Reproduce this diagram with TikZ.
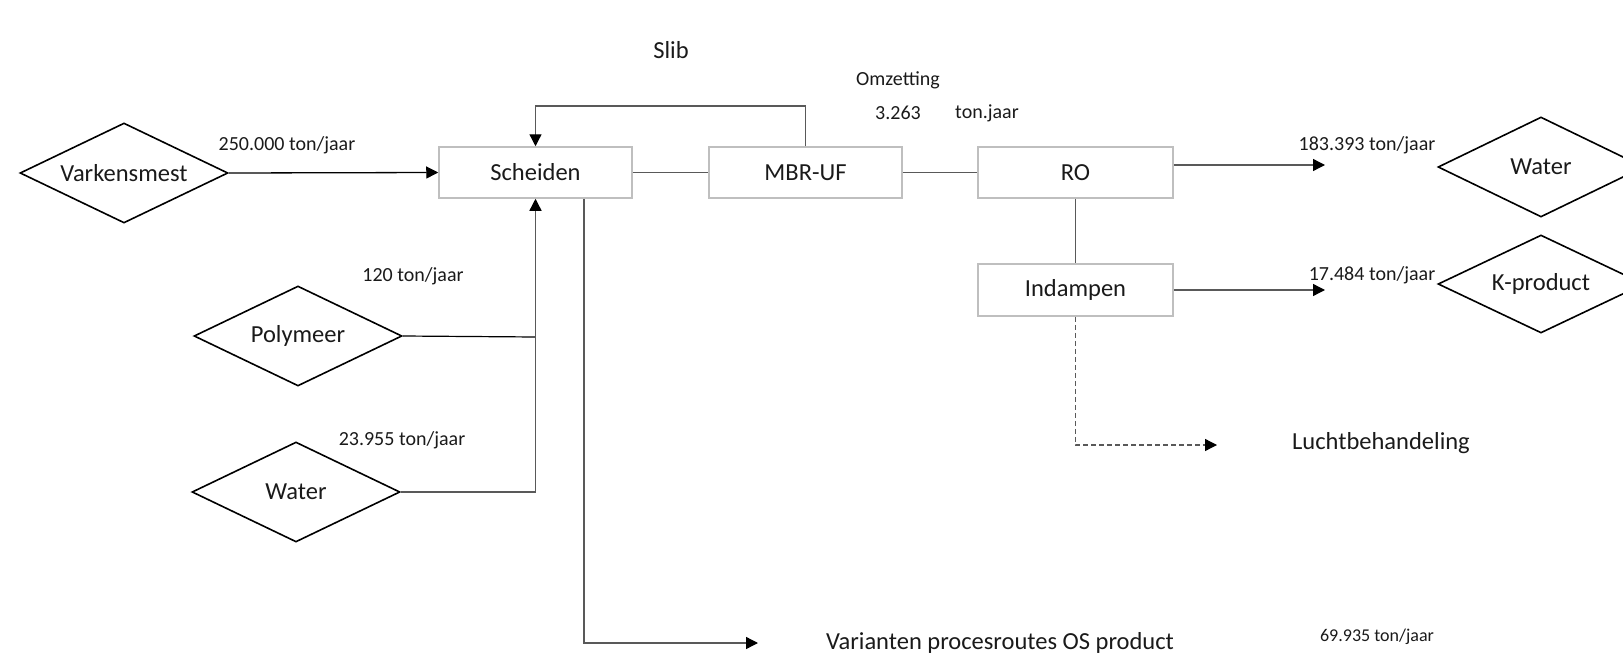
\documentclass[tikz,border=0pt]{standalone}
\usepackage{fontspec}
\setmainfont{Carlito}
\usetikzlibrary{shapes.geometric,arrows.meta}
\definecolor{boxgray}{HTML}{BFBFBF}
\definecolor{linegray}{HTML}{595959}
\definecolor{txt}{HTML}{1A1A1A}
\begin{document}
\begin{tikzpicture}[x=1pt,y=-1pt,
  big/.style={font=\fontsize{24.5}{29}\selectfont,text=txt},
  small/.style={font=\fontsize{20}{24}\selectfont,text=txt},
  tiny/.style={font=\fontsize{18}{22}\selectfont,text=txt},
  procbox/.style={draw=boxgray,line width=1.5pt,minimum width=193pt,minimum height=51pt,inner sep=0pt,big},
  src/.style={draw=black,line width=1.6pt,shape=diamond,aspect=2.1,inner sep=0pt,minimum width=208pt,minimum height=100pt,big},
  tip/.style={-{Triangle[length=12pt,width=12pt,color=black,fill=black]}},
  flow/.style={draw=linegray,line width=1.3pt,tip},
  link/.style={draw=linegray,line width=1.3pt}]
\useasboundingbox (0,0) rectangle (1623,661);
\clip (0,0) rectangle (1623,661);

% source / sink diamonds
\node[src] (varken) at (124,173) {Varkensmest};
\node[src] (poly) at (298,336) {Polymeer};
\node[src] (waterin) at (296,492) {Water};
\node[src,minimum width=206pt] (waterout) at (1541,167) {Water};
\node[src,minimum width=206pt,minimum height=98pt] (kprod) at (1541,284) {K-product};

% process boxes
\node[procbox] (sch) at (535.5,172.5) {Scheiden};
\node[procbox] (mbr) at (805.5,172.5) {MBR-UF};
\node[procbox,minimum width=195pt] (ro) at (1075.5,172.5) {RO};
\node[procbox,minimum width=195pt,minimum height=52pt] (ind) at (1075.5,290) {Indampen};

% free ends
\coordinate (fb) at (0,106);
\coordinate (roend) at (1325,165);
\coordinate (indend) at (1325,290);
\coordinate (luchtend) at (1217,445);
\coordinate (osend) at (758,643);
\coordinate (pj) at (535.5,337);
\coordinate (wj) at (535.5,492);

% connectors
\draw[flow,draw=black] (varken.east) -- (sch.west);
\draw[link] (sch.east) -- (mbr.west);
\draw[link] (mbr.east) -- (ro.west);
\draw[flow] (mbr.north) -- (mbr.north |- fb) -- (sch.north |- fb) -- (sch.north);
\draw[flow] ([yshift=7.5pt]ro.east) -- (roend);
\draw[link] (ro.south) -- (ind.north);
\draw[flow] (ind.east) -- (indend);
\draw[flow,dash pattern=on 5pt off 3pt] (ind.south) |- (luchtend);
\draw[draw=black,line width=1.2pt] (poly.east) -- (pj);
\draw[flow] (waterin.east) -- (wj) -- (sch.south);
\draw[flow] ([xshift=48.5pt]sch.south) |- (osend);

% labels
\node[big] (slib) at (671,50) {Slib};
\node[small] (omz) at (898,80) {Omzetting};
\node[small] (omzval) at (898,113) {3.263};
\node[small] (omzunit) at (987,113) {ton.jaar};
\node[small] (lvark) at (287,145) {250.000 ton/jaar};
\node[small] (lpoly) at (413,276) {120 ton/jaar};
\node[small] (lwater) at (402,440) {23.955 ton/jaar};
\node[small] (lwout) at (1367,145) {183.393 ton/jaar};
\node[small] (lkprod) at (1372,275) {17.484 ton/jaar};
\node[big] (lucht) at (1381,443) {Luchtbehandeling};
\node[big] (osprod) at (1000,643) {Varianten procesroutes OS product};
\node[tiny] (los) at (1377,637) {69.935 ton/jaar};
\end{tikzpicture}
\end{document}
